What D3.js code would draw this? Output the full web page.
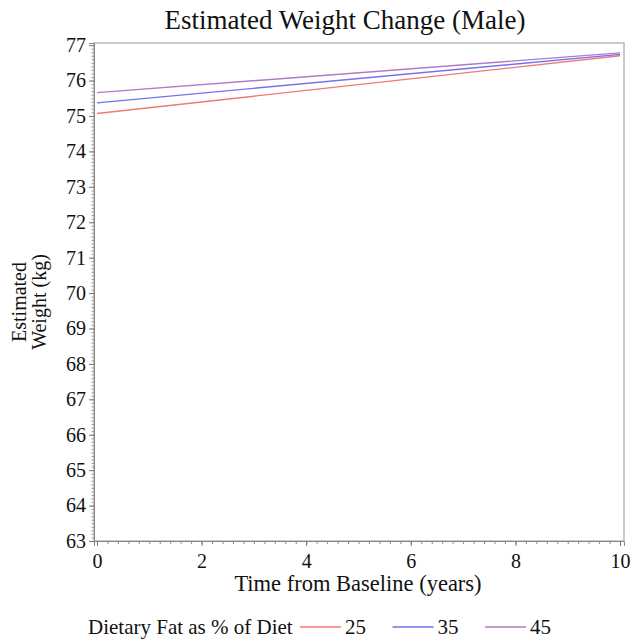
<!DOCTYPE html>
<html>
<head>
<meta charset="utf-8">
<script src="https://cdn.jsdelivr.net/npm/d3@7"></script>
<style>
  body { margin: 0; background: #fff; }
  svg text { font-family: 'Liberation Serif', 'Times New Roman', serif !important; fill: #111; }
</style>
</head>
<body>
<div id="chart"></div>
<script>
// years from baseline
const years = [0, 10]
// dietary fat groups
const fatGroups = ["25", "35", "45"]
const fatColors = ["#f07878", "#7272ee", "#b27ac8"]
// estimated weight (kg) at each year, per group
const weight25 = [75.07, 76.70]
const weight35 = [75.37, 76.74]
const weight45 = [75.66, 76.78]
const xTicks = [0, 2, 4, 6, 8, 10]
const yTicks = d3.range(63, 78)

const series = [weight25, weight35, weight45].map((vals, i) => ({
  name: fatGroups[i],
  color: fatColors[i],
  points: years.map((t, j) => ({ t: t, w: vals[j] }))
}))

const width = 631, height = 639
const plotL = 94, plotR = 624, plotT = 43, plotB = 541

const svg = d3.select('#chart').append('svg')
  .attr('width', width)
  .attr('height', height)

const x = d3.scaleLinear().domain([-0.057, 10.076]).range([plotL, plotR])
const y = d3.scaleLinear().domain([63, 77.06]).range([plotB, plotT])

// frame
svg.append('rect')
  .attr('x', plotL).attr('y', plotT)
  .attr('width', plotR - plotL).attr('height', plotB - plotT)
  .attr('fill', 'none').attr('stroke', '#a8a8a8').attr('stroke-width', 1.2)

// x axis: major + minor ticks
const xMinor = d3.range(0, 10.01, 0.2)
svg.append('g')
  .attr('transform', `translate(0,${plotB})`)
  .call(d3.axisBottom(x).tickValues(xMinor).tickSize(3).tickFormat(''))
  .call(g => g.select('.domain').remove())
  .call(g => g.selectAll('line').attr('stroke', '#888'))
const xAxis = svg.append('g')
  .attr('transform', `translate(0,${plotB})`)
  .call(d3.axisBottom(x).tickValues(xTicks).tickSize(5).tickPadding(8).tickFormat(d3.format('d')))
xAxis.attr('font-family', null).attr('font-size', 20)
xAxis.select('.domain').attr('stroke', '#888')
xAxis.selectAll('line').attr('stroke', '#777')

// y axis: major + minor ticks
const yMinor = d3.range(63, 77.001, 0.1)
svg.append('g')
  .attr('transform', `translate(${plotL},0)`)
  .call(d3.axisLeft(y).tickValues(yMinor).tickSize(2.5).tickFormat(''))
  .call(g => g.select('.domain').remove())
  .call(g => g.selectAll('line').attr('stroke', '#999'))
const yAxis = svg.append('g')
  .attr('transform', `translate(${plotL},0)`)
  .call(d3.axisLeft(y).tickValues(yTicks).tickSize(5).tickPadding(3).tickFormat(d3.format('d')))
yAxis.attr('font-family', null).attr('font-size', 20)
yAxis.select('.domain').attr('stroke', '#888')
yAxis.selectAll('line').attr('stroke', '#777')

// lines
const line = d3.line().x(d => x(d.t)).y(d => y(d.w))
svg.append('g').selectAll('path')
  .data(series)
  .enter().append('path')
  .attr('d', d => line(d.points))
  .attr('fill', 'none')
  .attr('stroke', d => d.color)
  .attr('stroke-width', 1.4)

// title
svg.append('text')
  .attr('x', 345).attr('y', 29)
  .attr('text-anchor', 'middle')
  .style('font-size', '27px')
  .text('Estimated Weight Change (Male)')

// axis labels
svg.append('text')
  .attr('x', 358).attr('y', 591)
  .attr('text-anchor', 'middle')
  .style('font-size', '22.5px')
  .text('Time from Baseline (years)')

const yLab = svg.append('text')
  .attr('transform', 'translate(26,302) rotate(-90)')
  .attr('text-anchor', 'middle')
  .style('font-size', '20px')
yLab.append('tspan').attr('x', 0).attr('dy', 0).text('Estimated')
yLab.append('tspan').attr('x', 0).attr('dy', 20).text('Weight (kg)')

// legend
const legend = svg.append('g').attr('transform', 'translate(88,634)')
legend.append('text')
  .attr('x', 0).attr('y', 0)
  .style('font-size', '21px')
  .text('Dietary Fat as % of Diet')
const items = legend.selectAll('g.item')
  .data(series)
  .enter().append('g')
  .attr('class', 'item')
  .attr('transform', (d, i) => `translate(${212 + i * 92.5},0)`)
items.append('line')
  .attr('x1', 0).attr('x2', 41)
  .attr('y1', -7).attr('y2', -7)
  .attr('stroke', d => d.color)
  .attr('stroke-width', 1.4)
items.append('text')
  .attr('x', 45).attr('y', 0)
  .style('font-size', '21px')
  .text(d => d.name)
</script>
</body>
</html>
